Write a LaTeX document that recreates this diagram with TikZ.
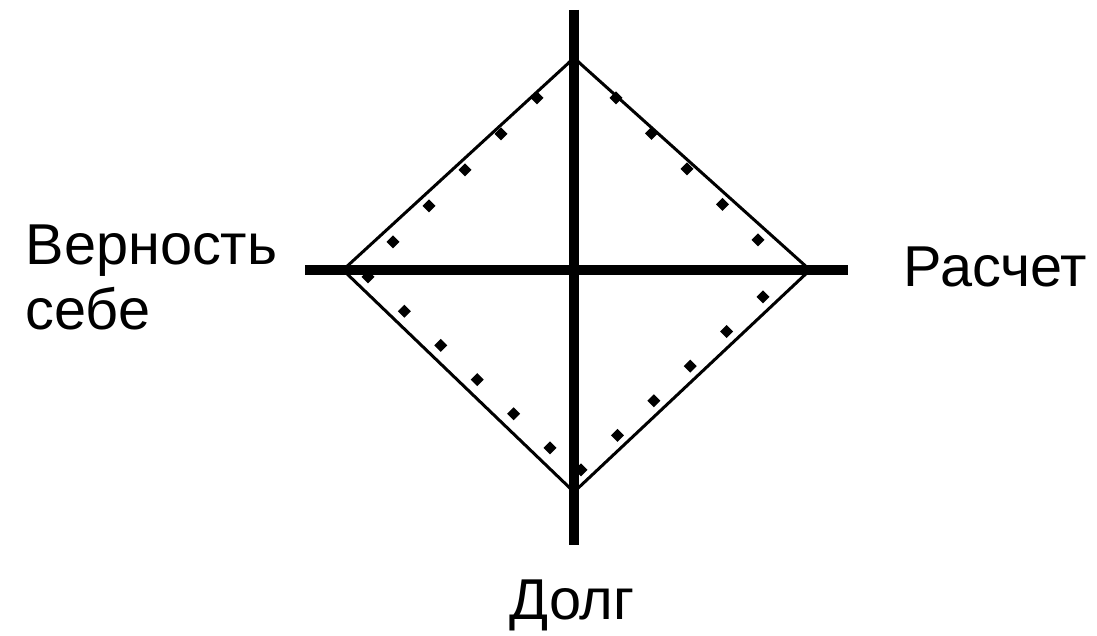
\documentclass[tikz,border=0pt]{standalone}
\usepackage{fontspec}
\setmainfont{Liberation Sans}
\usetikzlibrary{calc}

\begin{document}
\begin{tikzpicture}[
    font=\fontsize{16.4}{19}\selectfont,
    axis/.style={line width=0.1cm},
    frame/.style={line width=0.03cm, line join=miter},
    label/.style={inner sep=0pt}
  ]

    % 1. Define the coordinates
    \useasboundingbox (0,0) rectangle (10.97,6.36);
    \coordinate (O) at (5.74,3.66);
    \coordinate (Ntop) at (5.74,6.26);
    \coordinate (Nbot) at (5.74,0.91);
    \coordinate (Wend) at (3.05,3.66);
    \coordinate (Eend) at (8.48,3.66);

    \coordinate (T) at (5.74,5.78);
    \coordinate (R) at (8.10,3.66);
    \coordinate (B) at (5.74,1.44);
    \coordinate (L) at (3.43,3.66);

    % 2. Draw the outer diamond
    \draw[frame] (T) -- (R) -- (B) -- (L) -- cycle;

    % 3. Draw the dotted inner diamond (first dot / last dot / number of gaps)
    \foreach \a/\b/\n in {{5.37,5.38}/{3.93,3.94}/4, {6.16,5.38}/{7.58,3.96}/4,
                          {7.63,3.39}/{5.81,1.66}/5, {3.68,3.59}/{5.50,1.88}/5} {
      \foreach \k in {0,...,\n} {
        \fill ($(\a)!\k/\n!(\b)$) +(0,0.065) -- +(0.065,0) -- +(0,-0.065) -- +(-0.065,0) -- cycle;
      }
    }
    \fill (5.74,5.74) +(0,0.065) -- +(0.065,0) -- +(0,-0.065) -- +(-0.065,0) -- cycle;

    % 4. Draw the two axes
    \draw[axis] (Ntop) -- (Nbot);
    \draw[axis] (Wend) -- (Eend);

    % 5. Put the labels
    \node[label, anchor=base west] (loyal) at (0.25,3.71) {Верность};
    \node[label, anchor=base west] (self) at (0.25,3.06) {себе};
    \node[label, anchor=base west] (calc) at (9.03,3.49) {Расчет};
    \node[label, anchor=base] (duty) at (5.72,0.16) {Долг};

\end{tikzpicture}
\end{document}
